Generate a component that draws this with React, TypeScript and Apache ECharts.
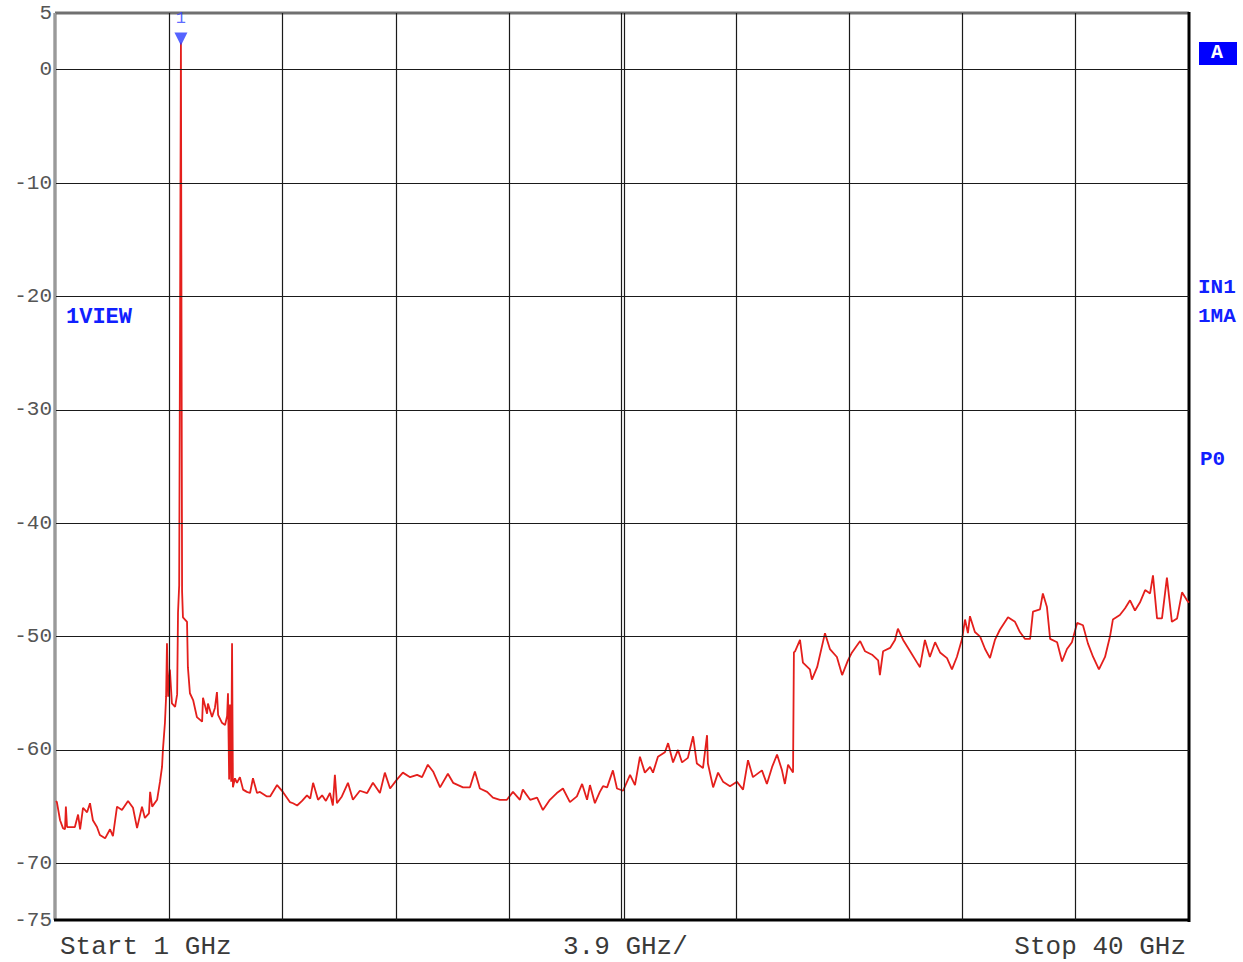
import React, { useEffect, useRef } from "react";
import * as echarts from "echarts";

// Trace: frequency (GHz) and level (dBm)
const freqGHz = [
  1.0, 1.03, 1.14, 1.24, 1.31, 1.34, 1.38, 1.48, 1.65, 1.76, 1.83, 1.93, 2.07, 2.17, 2.27, 2.41, 2.51, 2.69, 2.86, 2.96,
  3.1, 3.27, 3.48, 3.65, 3.79, 3.96, 4.06, 4.2, 4.24, 4.31, 4.48, 4.58, 4.65, 4.68, 4.75, 4.79, 4.82, 4.86, 4.92, 4.99,
  5.1, 5.17, 5.2, 5.24, 5.27, 5.3, 5.32, 5.34, 5.37, 5.44, 5.51, 5.54, 5.61, 5.72, 5.85, 6.03, 6.06, 6.2, 6.23, 6.37,
  6.47, 6.54, 6.58, 6.71, 6.82, 6.89, 6.92, 6.96, 6.99, 7.03, 7.06, 7.09, 7.16, 7.23, 7.33, 7.44, 7.57, 7.68, 7.78, 7.92,
  8.02, 8.26, 8.37, 8.61, 8.81, 9.05, 9.16, 9.3, 9.47, 9.64, 9.75, 9.85, 10.02, 10.16, 10.29, 10.43, 10.53, 10.6, 10.67, 10.84,
  11.05, 11.22, 11.46, 11.71, 11.91, 12.15, 12.32, 12.5, 12.74, 12.94, 13.19, 13.43, 13.6, 13.8, 13.98, 14.22, 14.49, 14.67, 15.01, 15.25,
  15.42, 15.59, 15.84, 16.04, 16.28, 16.52, 16.73, 16.97, 17.07, 17.32, 17.56, 17.76, 18.0, 18.24, 18.45, 18.69, 18.93, 19.11, 19.28, 19.38,
  19.55, 19.72, 19.83, 19.97, 20.17, 20.31, 20.52, 20.76, 20.93, 21.1, 21.27, 21.45, 21.55, 21.72, 21.96, 22.07, 22.24, 22.41, 22.55, 22.75,
  22.93, 23.06, 23.27, 23.41, 23.44, 23.62, 23.79, 23.96, 24.2, 24.44, 24.65, 24.82, 24.99, 25.3, 25.47, 25.65, 25.82, 25.99, 26.09, 26.2,
  26.37, 26.4, 26.44, 26.61, 26.71, 26.95, 27.02, 27.2, 27.47, 27.64, 27.88, 28.06, 28.26, 28.4, 28.68, 28.85, 29.09, 29.3, 29.36, 29.47,
  29.71, 29.88, 29.98, 30.16, 30.4, 30.64, 30.74, 30.91, 31.08, 31.26, 31.43, 31.67, 31.84, 32.01, 32.19, 32.29, 32.39, 32.46, 32.63, 32.81,
  32.98, 33.15, 33.32, 33.49, 33.77, 34.01, 34.18, 34.35, 34.53, 34.63, 34.87, 34.97, 35.11, 35.22, 35.46, 35.63, 35.8, 35.97, 36.15, 36.35,
  36.52, 36.7, 36.9, 37.11, 37.28, 37.38, 37.62, 37.8, 37.97, 38.14, 38.31, 38.49, 38.66, 38.76, 38.9, 39.07, 39.24, 39.41, 39.59, 39.76,
  39.93, 40.0,
];
const levelDbm = [
  -64.5, -64.6, -66.2, -66.9, -67.0, -65.0, -66.8, -66.8, -66.8, -65.7, -67.0, -65.1, -65.5, -64.7, -66.2, -66.8, -67.5, -67.8, -67.0, -67.6,
  -65.0, -65.3, -64.5, -65.1, -66.9, -65.0, -66.0, -65.6, -63.7, -65.0, -64.4, -62.8, -61.5, -60.0, -57.6, -55.3, -50.6, -55.3, -52.9, -55.9,
  -56.2, -55.1, -47.9, -45.5, -22.5, 2.4, -22.0, -46.0, -48.3, -48.5, -48.7, -52.7, -55.0, -55.6, -57.1, -57.5, -55.4, -56.8, -55.9, -57.1,
  -56.3, -54.9, -56.9, -57.6, -57.8, -57.0, -55.0, -62.6, -56.0, -62.8, -50.6, -63.3, -62.5, -62.9, -62.4, -63.5, -63.7, -63.8, -62.5, -63.8,
  -63.7, -64.1, -64.1, -63.1, -63.7, -64.6, -64.7, -64.9, -64.5, -64.0, -64.3, -62.9, -64.4, -64.0, -64.5, -63.8, -64.9, -62.2, -64.7, -64.1,
  -62.9, -64.4, -63.6, -63.8, -62.9, -63.8, -62.0, -63.4, -62.6, -62.0, -62.4, -62.2, -62.4, -61.3, -61.9, -63.3, -62.1, -62.9, -63.3, -63.3,
  -61.9, -63.4, -63.7, -64.2, -64.4, -64.4, -63.7, -64.4, -63.5, -64.4, -64.2, -65.3, -64.4, -63.8, -63.4, -64.6, -64.1, -63.0, -64.4, -63.1,
  -64.7, -63.7, -63.2, -63.3, -61.8, -63.4, -63.6, -62.2, -63.1, -60.6, -62.0, -61.5, -62.0, -60.6, -60.2, -59.4, -61.1, -60.0, -61.1, -60.7,
  -58.8, -61.2, -61.6, -58.7, -61.2, -63.3, -62.0, -62.8, -63.2, -62.8, -63.5, -60.9, -62.4, -61.8, -63.0, -61.5, -60.4, -61.8, -63.0, -61.3,
  -62.0, -51.4, -51.3, -50.3, -52.3, -52.9, -53.8, -52.7, -49.7, -51.1, -51.8, -53.4, -52.1, -51.4, -50.4, -51.3, -51.6, -52.1, -53.4, -51.3,
  -51.0, -50.3, -49.3, -50.3, -51.3, -52.3, -52.7, -50.3, -51.8, -50.5, -51.4, -51.9, -52.9, -51.8, -50.2, -48.5, -49.7, -48.2, -49.6, -50.0,
  -51.1, -51.9, -50.3, -49.4, -48.3, -48.7, -49.6, -50.2, -50.2, -47.8, -47.6, -46.2, -47.4, -50.2, -50.5, -52.2, -51.1, -50.5, -48.8, -49.0,
  -50.6, -51.8, -52.9, -51.8, -50.0, -48.5, -48.1, -47.5, -46.8, -47.7, -47.0, -45.9, -46.2, -44.6, -48.4, -48.4, -44.8, -48.7, -48.4, -46.1,
  -46.8, -47.0,
];

const yTickLabels = [5, 0, -10, -20, -30, -40, -50, -60, -70, -75];
const hGridLevels = [0, -10, -20, -30, -40, -50, -60, -70];
const vGridFreqs = [4.9, 8.8, 12.7, 16.6, 24.4, 28.3, 32.2, 36.1];
const centerFreq = 20.5;
const markerFreq = 5.3;
const markerLevel = 2.7;

const MONO = "'Liberation Mono', 'DejaVu Sans Mono', monospace";

export default function App() {
  const ref = useRef<HTMLDivElement>(null);
  useEffect(() => {
    document.body.style.margin = "0";
    const chart = echarts.init(ref.current!, null, { renderer: "svg" });
    const trace = freqGHz.map((f, i) => [f, levelDbm[i]]);
    chart.setOption({
      animation: false,
      backgroundColor: "#ffffff",
      grid: { left: 56, top: 13, width: 1133, height: 907, containLabel: false },
      xAxis: {
        type: "value",
        min: 1,
        max: 40,
        axisLabel: { show: false },
        axisLine: { show: false },
        axisTick: { show: false },
        splitLine: { show: false },
      },
      yAxis: {
        type: "value",
        min: -75,
        max: 5,
        interval: 5,
        axisLine: { show: false },
        axisTick: { show: false },
        splitLine: { show: false },
        axisLabel: {
          margin: 4,
          color: "#555",
          fontFamily: MONO,
          fontSize: 21,
          formatter: (v: number) => (yTickLabels.includes(v) ? String(v) : ""),
        },
      },
      series: [
        {
          type: "line",
          data: [[1, -100]],
          symbol: "none",
          lineStyle: { opacity: 0 },
          silent: true,
          z: 1,
          markLine: {
            silent: true,
            symbol: "none",
            label: { show: false },
            animation: false,
            lineStyle: { color: "#1a1a1a", width: 1.2, type: "solid" },
            data: [
              ...hGridLevels.map((v) => ({ yAxis: v })),
              ...vGridFreqs.map((v) => ({ xAxis: v })),
              { xAxis: centerFreq - 0.06 },
              { xAxis: centerFreq + 0.06 },
            ],
          },
        },
        {
          type: "line",
          data: trace,
          symbol: "none",
          z: 3,
          lineStyle: { color: "#e41f1c", width: 1.8 },
        },
        {
          type: "scatter",
          data: [[markerFreq, markerLevel]],
          symbol: "triangle",
          symbolRotate: 180,
          symbolSize: 13,
          z: 4,
          itemStyle: { color: "#2b3cff" },
          label: {
            show: true,
            position: "top",
            distance: 6,
            formatter: "1",
            color: "#3344ff",
            fontFamily: MONO,
            fontSize: 17,
          },
        },
      ],
      graphic: [
        { type: "line", shape: { x1: 55, y1: 13, x2: 1189, y2: 13 }, style: { stroke: "#707070", lineWidth: 3 } },
        { type: "line", shape: { x1: 55, y1: 13, x2: 55, y2: 920 }, style: { stroke: "#707070", lineWidth: 3 } },
        { type: "line", shape: { x1: 55, y1: 13, x2: 55, y2: 920 }, style: { stroke: "#ffffff", lineWidth: 0.6 } },
        { type: "line", shape: { x1: 1189, y1: 12, x2: 1189, y2: 922 }, style: { stroke: "#000", lineWidth: 3 } },
        { type: "line", shape: { x1: 54, y1: 920, x2: 1190, y2: 920 }, style: { stroke: "#000", lineWidth: 3 } },
        {
          type: "text", left: 60, top: 934,
          style: { text: "Start 1 GHz", fill: "#3a3a3a", font: `26px ${MONO}` },
        },
        {
          type: "text", left: 563, top: 934,
          style: { text: "3.9 GHz/", fill: "#3a3a3a", font: `26px ${MONO}` },
        },
        {
          type: "text", right: 57, top: 934,
          style: { text: "Stop 40 GHz", fill: "#3a3a3a", font: `26px ${MONO}` },
        },
        {
          type: "text", left: 66, top: 306,
          style: { text: "1VIEW", fill: "#1020ff", font: `bold 22px ${MONO}` },
        },
        { type: "rect", shape: { x: 1199, y: 42, width: 38, height: 23 }, style: { fill: "#0000ff" } },
        {
          type: "text", left: 1211, top: 42,
          style: { text: "A", fill: "#fff", font: `bold 20px ${MONO}` },
        },
        {
          type: "text", left: 1198, top: 277,
          style: { text: "IN1", fill: "#1020ff", font: `bold 21px ${MONO}` },
        },
        {
          type: "text", left: 1198, top: 306,
          style: { text: "1MA", fill: "#1020ff", font: `bold 21px ${MONO}` },
        },
        {
          type: "text", left: 1200, top: 449,
          style: { text: "P0", fill: "#1020ff", font: `bold 21px ${MONO}` },
        },
      ],
    });
    return () => chart.dispose();
  }, []);
  return (
    <div
      ref={ref}
      style={{ position: "absolute", left: 0, top: 0, width: 1243, height: 962 }}
    />
  );
}
